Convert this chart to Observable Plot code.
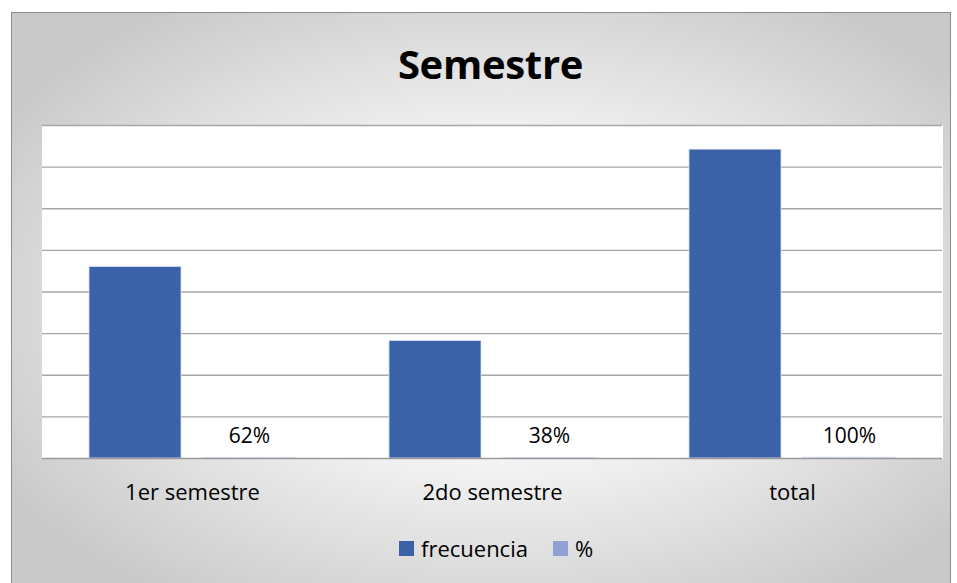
<!DOCTYPE html>
<html>
<head>
<meta charset="utf-8">
<script src="https://cdn.jsdelivr.net/npm/d3@7"></script>
<script src="https://cdn.jsdelivr.net/npm/@observablehq/plot@0.6"></script>
<style>
  html, body { margin: 0; padding: 0; background: #ffffff; }
  #page { position: relative; width: 957px; height: 583px; overflow: hidden; background: #ffffff; font-family: "Open Sans", "Noto Sans", sans-serif; }
  #frame { position: absolute; left: 11px; top: 12px; width: 938px; height: 580px; border: 1px solid #8a8a8a;
    background: radial-gradient(ellipse 62% 62% at 52% 50%, #ffffff 0%, #f6f6f6 40%, #c9c9c9 100%); }
  #title { position: absolute; left: 0; width: 957px; top: 36px; text-align: center; font-size: 40px; font-weight: 700; color: #000; letter-spacing: -0.3px; transform: translateX(12px); }
  #chart { position: absolute; left: 0; top: 100px; }
  #legend { position: absolute; top: 533px; left: 399px; display: flex; align-items: center; font-size: 22px; color: #000; }
  .sw { display: inline-block; width: 15px; height: 15px; margin-right: 7px; }
</style>
</head>
<body>
<div id="page">
  <div id="frame"></div>
  <div id="title">Semestre</div>
  <div id="chart"></div>
  <div id="legend">
    <span class="sw" style="background:#3b62a9"></span><span>frecuencia</span>
    <span class="sw" style="background:#8fa2d4;margin-left:25px"></span><span>%</span>
  </div>
</div>
<script>
const categories = ["1er semestre", "2do semestre", "total"];
const series = ["frecuencia", "%"];
const frecuencia = [230, 141, 371];
const porcentaje = [0.62, 0.38, 1];
const porcentajeLabels = ["62%", "38%", "100%"];
const gridTicks = [0, 50, 100, 150, 200, 250, 300, 350, 400];
const colors = ["#3b62a9", "#8fa2d4"];

const rows = [];
categories.forEach((c, i) => {
  rows.push({cat: c, serie: "frecuencia", value: frecuencia[i], label: null});
  rows.push({cat: c, serie: "%", value: porcentaje[i], label: porcentajeLabels[i]});
});
const labelRows = rows.filter(d => d.label);

const chart = Plot.plot({
  width: 957,
  height: 420,
  marginLeft: 42,
  marginRight: 15,
  marginTop: 25,
  marginBottom: 62,
  style: {background: "transparent", fontFamily: "'Open Sans', 'Noto Sans', sans-serif"},
  fx: {domain: categories, padding: 0, label: null, axis: null},
  x: {domain: series, axis: null, paddingInner: 0.193, paddingOuter: 0.412},
  y: {domain: [0, 400], axis: null},
  color: {domain: series, range: colors},
  marks: [
    Plot.frame({fill: "white", stroke: "white", strokeWidth: 1}),
    Plot.ruleY(gridTicks.slice(1), {stroke: "#a6a6a6", strokeWidth: 1.3}),
    Plot.barY(rows, {fx: "cat", x: "serie", y: "value", fill: "serie", stroke: "#d6e0f3", strokeWidth: 0.8}),
    Plot.ruleY([0], {stroke: "#9a9a9a", strokeWidth: 1.5}),
    Plot.text(labelRows, {fx: "cat", x: "serie", y: "value", text: "label", lineAnchor: "bottom", dy: -15, fontSize: 21, fill: "#000"}),
    Plot.axisFx({anchor: "bottom", tickSize: 0, tickPadding: 26, fontSize: 22, label: null, color: "#000"})
  ]
});
document.getElementById("chart").appendChild(chart);
</script>
</body>
</html>
